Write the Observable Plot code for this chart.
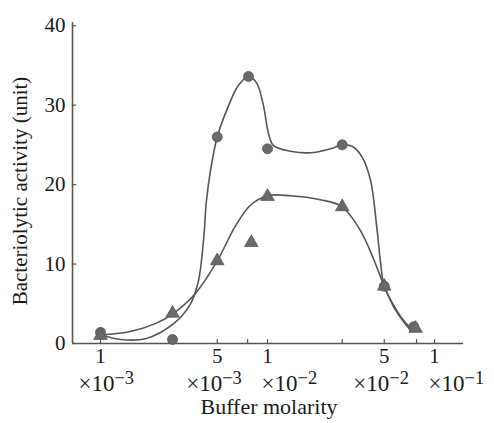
<!DOCTYPE html>
<html><head><meta charset="utf-8">
<script src="https://cdn.jsdelivr.net/npm/d3@7"></script>
<script src="https://cdn.jsdelivr.net/npm/@observablehq/plot@0.6"></script>
<style>
body{margin:0;background:#fff;}
svg{font-family:"Liberation Serif","DejaVu Serif",serif;}
</style></head>
<body><div id="chart"></div>
<script>
// measured points (molarity, activity)
const circleX = [1e-3, 2.7e-3, 5e-3, 7.7e-3, 1e-2, 2.8e-2, 5e-2, 7.5e-2];
const circleY = [1.4, 0.5, 26.0, 33.6, 24.5, 25.0, 7.2, 2.1];
const triX = [1e-3, 2.7e-3, 5e-3, 8e-3, 1e-2, 2.8e-2, 5e-2, 7.7e-2];
const triY = [1.0, 3.8, 10.4, 12.7, 18.5, 17.2, 7.2, 1.9];

// hand-drawn fit curves
const circleFitX = [1.04e-3, 1.32e-3, 1.86e-3, 2.74e-3, 3.46e-3, 3.86e-3, 4.14e-3, 4.31e-3, 4.56e-3, 5e-3, 5.84e-3, 6.7e-3, 7.7e-3, 8.6e-3, 9.46e-3, 1.014e-2, 1.086e-2, 1.37e-2, 1.81e-2, 2.38e-2, 2.8e-2, 3.23e-2, 3.7e-2, 4.14e-2, 4.5e-2, 4.75e-2, 5e-2, 5.84e-2, 6.7e-2, 7.5e-2];
const circleFitY = [1.0, 0.5, 0.6, 2.5, 5.0, 7.9, 13.0, 18.0, 21.8, 26.0, 29.9, 32.5, 33.6, 32.8, 29.9, 26.4, 24.9, 24.2, 24.0, 24.5, 25.0, 24.8, 23.4, 20.5, 14.8, 10.2, 7.2, 4.4, 2.6, 1.6];
const triFitX = [1.04e-3, 1.51e-3, 2.13e-3, 2.74e-3, 3.7e-3, 5e-3, 6.43e-3, 7.9e-3, 1e-2, 1.37e-2, 2.07e-2, 2.8e-2, 3.6e-2, 4.3e-2, 5e-2, 5.84e-2, 7.2e-2];
const triFitY = [1.1, 1.5, 2.5, 3.8, 6.3, 10.4, 14.8, 17.4, 18.6, 18.6, 18.1, 17.2, 14.2, 10.7, 7.2, 4.2, 1.6];

const xTicks = [1e-3, 2.7e-3, 5e-3, 7.6e-3, 1e-2, 2.8e-2, 5e-2, 7.8e-2, 1e-1];
const xLabelVals = [1e-3, 5e-3, 1e-2, 5e-2, 1e-1];
const xLabelMant = ["1", "5", "1", "5", "1"];
const xLabelExp = ["−3", "−3", "−2", "−2", "−1"];
const yTicks = [0, 10, 20, 30, 40];
const xTitle = "Buffer molarity";
const yTitle = "Bacteriolytic activity (unit)";

const xMin = 6.8e-4, xMax = 0.149;
const ink = "#555";
const dotFill = "#6a6a6a";
const txt = "#1a1a1a";

const circles = circleX.map((x, i) => ({x, y: circleY[i]}));
const tris = triX.map((x, i) => ({x, y: triY[i]}));
const cFit = circleFitX.map((x, i) => ({x, y: circleFitY[i]}));
const tFit = triFitX.map((x, i) => ({x, y: triFitY[i]}));
const xl = xLabelVals.map((x, i) => ({x, m: xLabelMant[i], e: xLabelExp[i]}));
// label placement groups (crowded labels are shifted as in the original)
const xlFirst = xl.filter(d => d.x === xLabelVals[0]);
const xlOne = xl.filter(d => d.m === "1" && d.x !== xLabelVals[0]);
const xlFive = xl.filter(d => d.m !== "1");
const expoText = d => "×10" + d.e;

const chart = Plot.plot({
  width: 494, height: 423,
  marginLeft: 72, marginRight: 31, marginTop: 22, marginBottom: 80,
  style: {fontFamily: "Liberation Serif, DejaVu Serif, serif", background: "#fff"},
  x: {type: "log", domain: [xMin, xMax], axis: null},
  y: {domain: [0, 40.4], axis: null},
  marks: [
    Plot.ruleY([0], {stroke: ink, strokeWidth: 1.6}),
    Plot.ruleX([xMin], {stroke: ink, strokeWidth: 1.6}),
    Plot.ruleX(xTicks, {x: d => d, y1: 0, y2: 0.5, stroke: ink, strokeWidth: 1.2}),
    Plot.ruleY(yTicks, {y: d => d, x1: xMin, x2: xMin * 1.06, stroke: ink, strokeWidth: 1.2}),
    Plot.text(yTicks, {y: d => d, frameAnchor: "left", dx: -7, textAnchor: "end", text: d => String(d), fontSize: 21, fill: txt}),
    Plot.text(xl, {x: "x", y: () => 0, dy: 13, text: "m", fontSize: 21, fill: txt}),
    Plot.text(xlFirst, {x: "x", y: () => 0, dy: 40, dx: -22, textAnchor: "start", text: expoText, fontSize: 23, fill: txt}),
    Plot.text(xlOne, {x: "x", y: () => 0, dy: 40, dx: -6, textAnchor: "start", text: expoText, fontSize: 23, fill: txt}),
    Plot.text(xlFive, {x: "x", y: () => 0, dy: 40, dx: -31, textAnchor: "start", text: expoText, fontSize: 23, fill: txt}),
    Plot.text([xTitle], {frameAnchor: "bottom", dy: 70, dx: 1, text: d => d, fontSize: 22, fill: txt}),
    Plot.text([yTitle], {frameAnchor: "left", dx: -52, dy: 8, rotate: -90, textAnchor: "middle", text: d => d, fontSize: 21, fill: txt}),
    Plot.line(cFit, {x: "x", y: "y", curve: "catmull-rom", stroke: ink, strokeWidth: 1.6}),
    Plot.line(tFit, {x: "x", y: "y", curve: "catmull-rom", stroke: ink, strokeWidth: 1.6}),
    Plot.dot(circles, {x: "x", y: "y", r: 5, fill: dotFill, stroke: "#555", strokeWidth: 0.8}),
    Plot.dot(tris, {x: "x", y: "y", symbol: "triangle", r: 5, fill: dotFill, stroke: "#555", strokeWidth: 0.8})
  ]
});
// render exponent as a raised tspan
d3.select(chart).selectAll("text").each(function() {
  const t = this.textContent;
  const m = t.match(/^×10(−\d)$/);
  if (m) {
    const s = d3.select(this);
    s.text("×10");
    s.append("tspan").attr("dy", "-0.4em").attr("font-size", "0.8em").text(m[1]);
  }
});
document.getElementById("chart").append(chart);
</script>
</body></html>
